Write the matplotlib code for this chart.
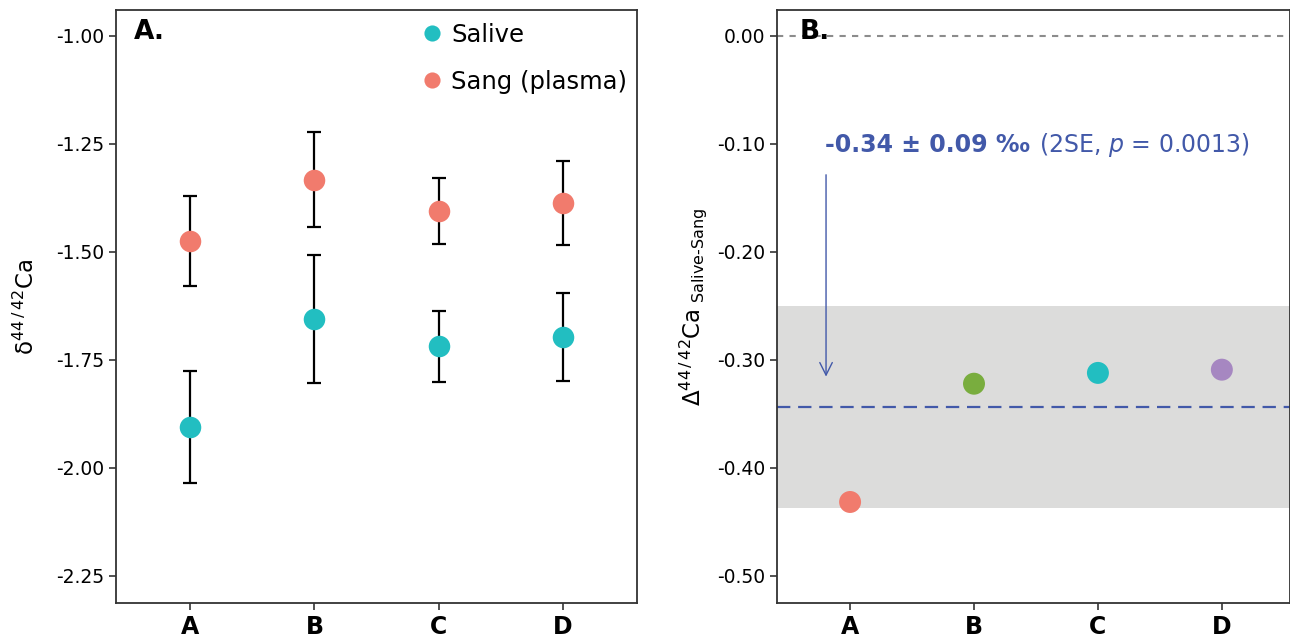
import numpy as np
import matplotlib
matplotlib.use("Agg")
import matplotlib.pyplot as plt

# data
subjects = ['A', 'B', 'C', 'D']
salive = [-1.905, -1.655, -1.718, -1.697]
salive_err = [0.13, 0.148, 0.082, 0.102]
sang = [-1.475, -1.333, -1.405, -1.387]
sang_err = [0.105, 0.11, 0.076, 0.098]

delta = [-0.4315, -0.322, -0.312, -0.309]
delta_colors = ['#F17B6D', '#79AD3E', '#22BEC1', '#A687C1']
mean_delta = -0.3435
band_lo, band_hi = -0.437, -0.25

c_salive = '#22BEC1'
c_sang = '#F17B6D'
c_blue = '#4259A9'

plt.rcParams['font.family'] = 'DejaVu Sans'
plt.rcParams['mathtext.fontset'] = 'dejavusans'

fig = plt.figure(figsize=(12.9, 6.44), dpi=100)
axA = fig.add_axes([0.0899, 0.0637, 0.4039, 0.9208])
axB = fig.add_axes([0.6023, 0.0637, 0.3977, 0.9208])

x = np.arange(1, len(subjects) + 1)

# --- panel A
axA.errorbar(x, sang, yerr=sang_err, fmt='none', ecolor='black', elinewidth=1.6,
             capsize=5, capthick=1.6, zorder=2)
axA.errorbar(x, salive, yerr=salive_err, fmt='none', ecolor='black', elinewidth=1.6,
             capsize=5, capthick=1.6, zorder=2)
axA.plot(x, salive, 'o', ms=15.5, color=c_salive, mec='none', label='Salive', zorder=3)
axA.plot(x, sang, 'o', ms=15.5, color=c_sang, mec='none', label='Sang (plasma)', zorder=3)
axA.set_xlim(0.4, 4.6)
axA.set_ylim(-2.3125, -0.94)
axA.set_yticks([-1.00, -1.25, -1.50, -1.75, -2.00, -2.25])
axA.set_yticklabels(['-1.00', '-1.25', '-1.50', '-1.75', '-2.00', '-2.25'])
axA.set_ylabel('δ$^{\\mathregular{44\\,/\\,42}}$Ca', fontsize=16.5, labelpad=12)
axA.text(0.035, 0.985, 'A.', transform=axA.transAxes, fontsize=19, fontweight='bold',
         va='top', ha='left')
axA.legend(loc='upper right', frameon=False, fontsize=17.5, handletextpad=-0.2,
           labelspacing=0.95, borderaxespad=0.0, markerscale=0.75,
           bbox_to_anchor=(1.0, 0.995))

# --- panel B
axB.axhspan(band_lo, band_hi, color='#DCDCDB', lw=0, zorder=0)
axB.axhline(0, color='#8C8C8C', ls=(0, (3, 3)), lw=1.5, zorder=1)
axB.axhline(mean_delta, color=c_blue, ls=(0, (6, 3.5)), lw=1.6, zorder=1)
axB.scatter(x, delta, s=250, c=delta_colors, edgecolors='none', zorder=3)
axB.annotate('', xy=(0.806, -0.318), xytext=(0.806, -0.126),
             arrowprops=dict(arrowstyle='->,head_length=0.9,head_width=0.45',
                             color=c_blue, lw=1.0))
t1 = axB.text(0.8, -0.101, '-0.34 ± 0.09 ‰', color=c_blue, fontsize=17,
              fontweight='bold', ha='left', va='center')
axB.annotate('(2SE, $p$ = 0.0013)', xy=(1, 0.5), xycoords=t1, xytext=(6, 0),
             textcoords='offset points', color=c_blue, fontsize=17,
             ha='left', va='center')
axB.set_xlim(0.41, 4.55)
axB.set_ylim(-0.525, 0.024)
axB.set_yticks([0.0, -0.1, -0.2, -0.3, -0.4, -0.5])
axB.set_yticklabels(['0.00', '-0.10', '-0.20', '-0.30', '-0.40', '-0.50'])
axB.set_ylabel('Δ$^{\\mathregular{44\\,/\\,42}}$Ca$_{\\mathregular{\\ Salive\\text{-}Sang}}$',
               fontsize=16.5, labelpad=6)
axB.text(0.045, 0.985, 'B.', transform=axB.transAxes, fontsize=19, fontweight='bold',
         va='top', ha='left')

for ax in (axA, axB):
    ax.set_xticks(x)
    ax.set_xticklabels(subjects, fontsize=17, fontweight='bold')
    ax.tick_params(axis='y', labelsize=13.5, length=5, width=1.2, color='#333333')
    ax.tick_params(axis='x', length=5, width=1.2, color='#333333', pad=4)
    for sp in ax.spines.values():
        sp.set_linewidth(1.3)
        sp.set_color('#333333')

fig.savefig('out.png', dpi=100)
